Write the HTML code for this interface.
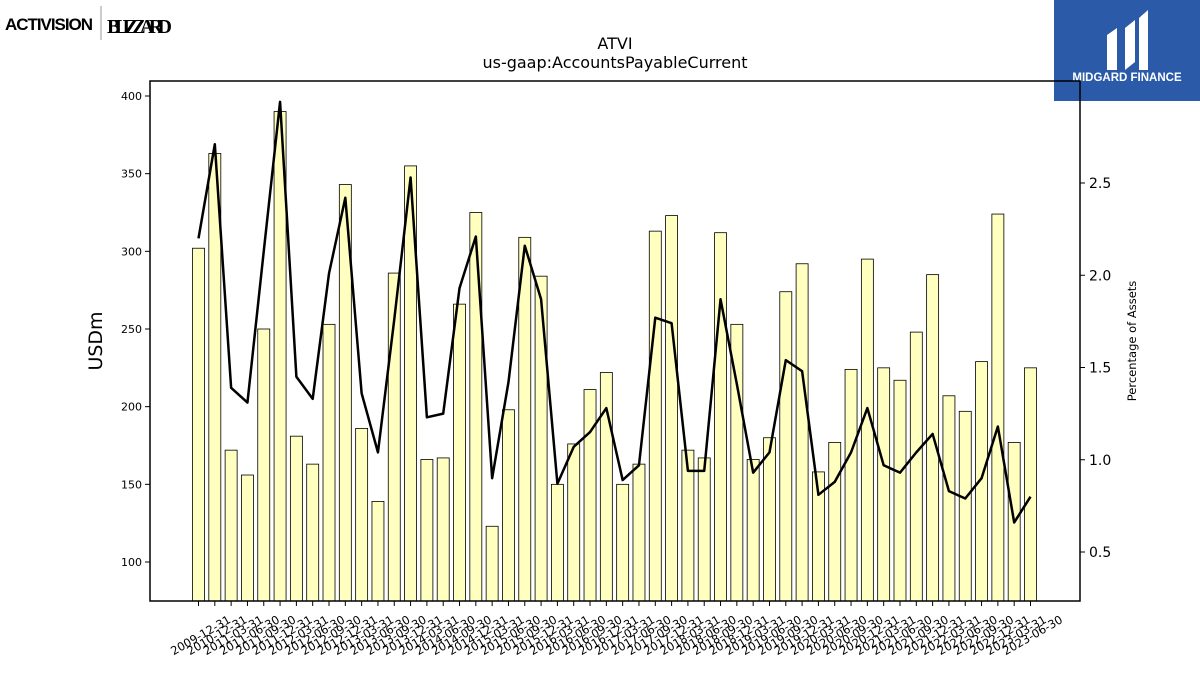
<!DOCTYPE html>
<html><head><meta charset="utf-8"><style>
body{margin:0;background:#fff;font-family:"DejaVu Sans","Liberation Sans",sans-serif}
svg{display:block}
</style></head><body>
<svg id="chart" width="1200" height="675" xmlns="http://www.w3.org/2000/svg">
<g>
<text x="5" y="30" font-size="17" font-weight="bold" font-family="Liberation Sans,sans-serif" textLength="88" fill="#000">ACTIVISION</text>
<line x1="101" y1="6" x2="101" y2="40" stroke="#999"/>
<text x="107" y="33" font-size="20" font-weight="bold" font-family="Liberation Serif,serif" textLength="65" fill="#000">BLIZZARD</text>
</g>
<g>
<rect x="1054" y="0" width="146" height="101" fill="#2a5aa8"/>
<path d="M1107 70 V35 L1117 28 V70 Z M1125 70 V28 L1135 20 V62 Z M1139 70 V18 L1148 10 V70 Z" fill="#fff"/>
<text x="1127" y="81" font-size="11.5" font-weight="bold" font-family="Liberation Sans,sans-serif" fill="#fff" text-anchor="middle">MIDGARD FINANCE</text>
</g>
<text x="615" y="49" font-size="16" text-anchor="middle">ATVI</text>
<text x="615" y="68" font-size="16" text-anchor="middle">us-gaap:AccountsPayableCurrent</text>
<g id="plot"></g>
<rect x="150" y="81" width="930" height="520" fill="none" stroke="#000" stroke-width="1.5"/>
<text transform="translate(102,341) rotate(-90)" font-size="19" text-anchor="middle">USDm</text>
<text transform="translate(1136,341) rotate(-90)" font-size="11.5" text-anchor="middle">Percentage of Assets</text>
</svg>
<script>
const categories=["2009-12-31","2010-12-31"];
for(let y=2011;y<=2023;y++){for(const q of ["03-31","06-30","09-30","12-31"]){if(y===2023&&(q==="09-30"||q==="12-31"))continue;categories.push(y+"-"+q);}}
const payables=[302,363,172,156,250,390,181,163,253,343,186,139,286,355,166,167,266,325,123,198,309,284,150,176,211,222,150,163,313,323,172,167,312,253,166,180,274,292,158,177,224,295,225,217,248,285,207,197,229,324,177,225];
const pctAssets=[2.20,2.71,1.39,1.31,2.13,2.94,1.45,1.33,2.01,2.42,1.36,1.04,1.76,2.53,1.23,1.25,1.93,2.21,0.90,1.42,2.16,1.87,0.87,1.07,1.15,1.28,0.89,0.97,1.77,1.74,0.94,0.94,1.87,1.41,0.93,1.04,1.54,1.48,0.81,0.88,1.04,1.28,0.97,0.93,1.04,1.14,0.83,0.79,0.90,1.18,0.66,0.80];
const leftTicks=[100,150,200,250,300,350,400];
const rightTicks=[0.5,1.0,1.5,2.0,2.5];
const NS="http://www.w3.org/2000/svg";
const g=document.getElementById("plot");
const x=i=>198.5+i*(1030.5-198.5)/(categories.length-1);
const yL=v=>562-(v-100)*466/300;
const yR=v=>552-(v-0.5)*184.5;
function mk(t,a){const e=document.createElementNS(NS,t);for(const k in a)e.setAttribute(k,a[k]);g.appendChild(e);return e;}
const bw=12;
payables.forEach((v,i)=>{
 const r=mk("rect",{x:x(i)-bw/2,y:yL(v),width:bw,height:601-yL(v),fill:"#ffffc0",stroke:"#000","stroke-width":0.8});
 
 
});
const pl=mk("polyline",{points:pctAssets.map((v,i)=>x(i)+","+yR(v)).join(" "),fill:"none",stroke:"#000","stroke-width":2.5,"stroke-linejoin":"round"});


leftTicks.forEach(v=>{
 const l=mk("line",{x1:145,x2:150,y1:yL(v),y2:yL(v),stroke:"#000"});
 
 
 const t=mk("text",{x:142,y:yL(v)+4,"font-size":11,"text-anchor":"end"});
 t.textContent=v;
 
 
});
rightTicks.forEach(v=>{
 const l=mk("line",{x1:1080,x2:1085,y1:yR(v),y2:yR(v),stroke:"#000"});
 
 
 const t=mk("text",{x:1089,y:yR(v)+5,"font-size":14});
 t.textContent=v.toFixed(1);
 
 
});
categories.forEach((c,i)=>{
 const l=mk("line",{x1:x(i),x2:x(i),y1:601,y2:606,stroke:"#000"});
 
 
 const t=mk("text",{transform:`translate(${x(i)+33},${622}) rotate(-30)`,"font-size":11.5,"text-anchor":"end"});
 t.textContent=c;
 
 
});
</script>
</body></html>
